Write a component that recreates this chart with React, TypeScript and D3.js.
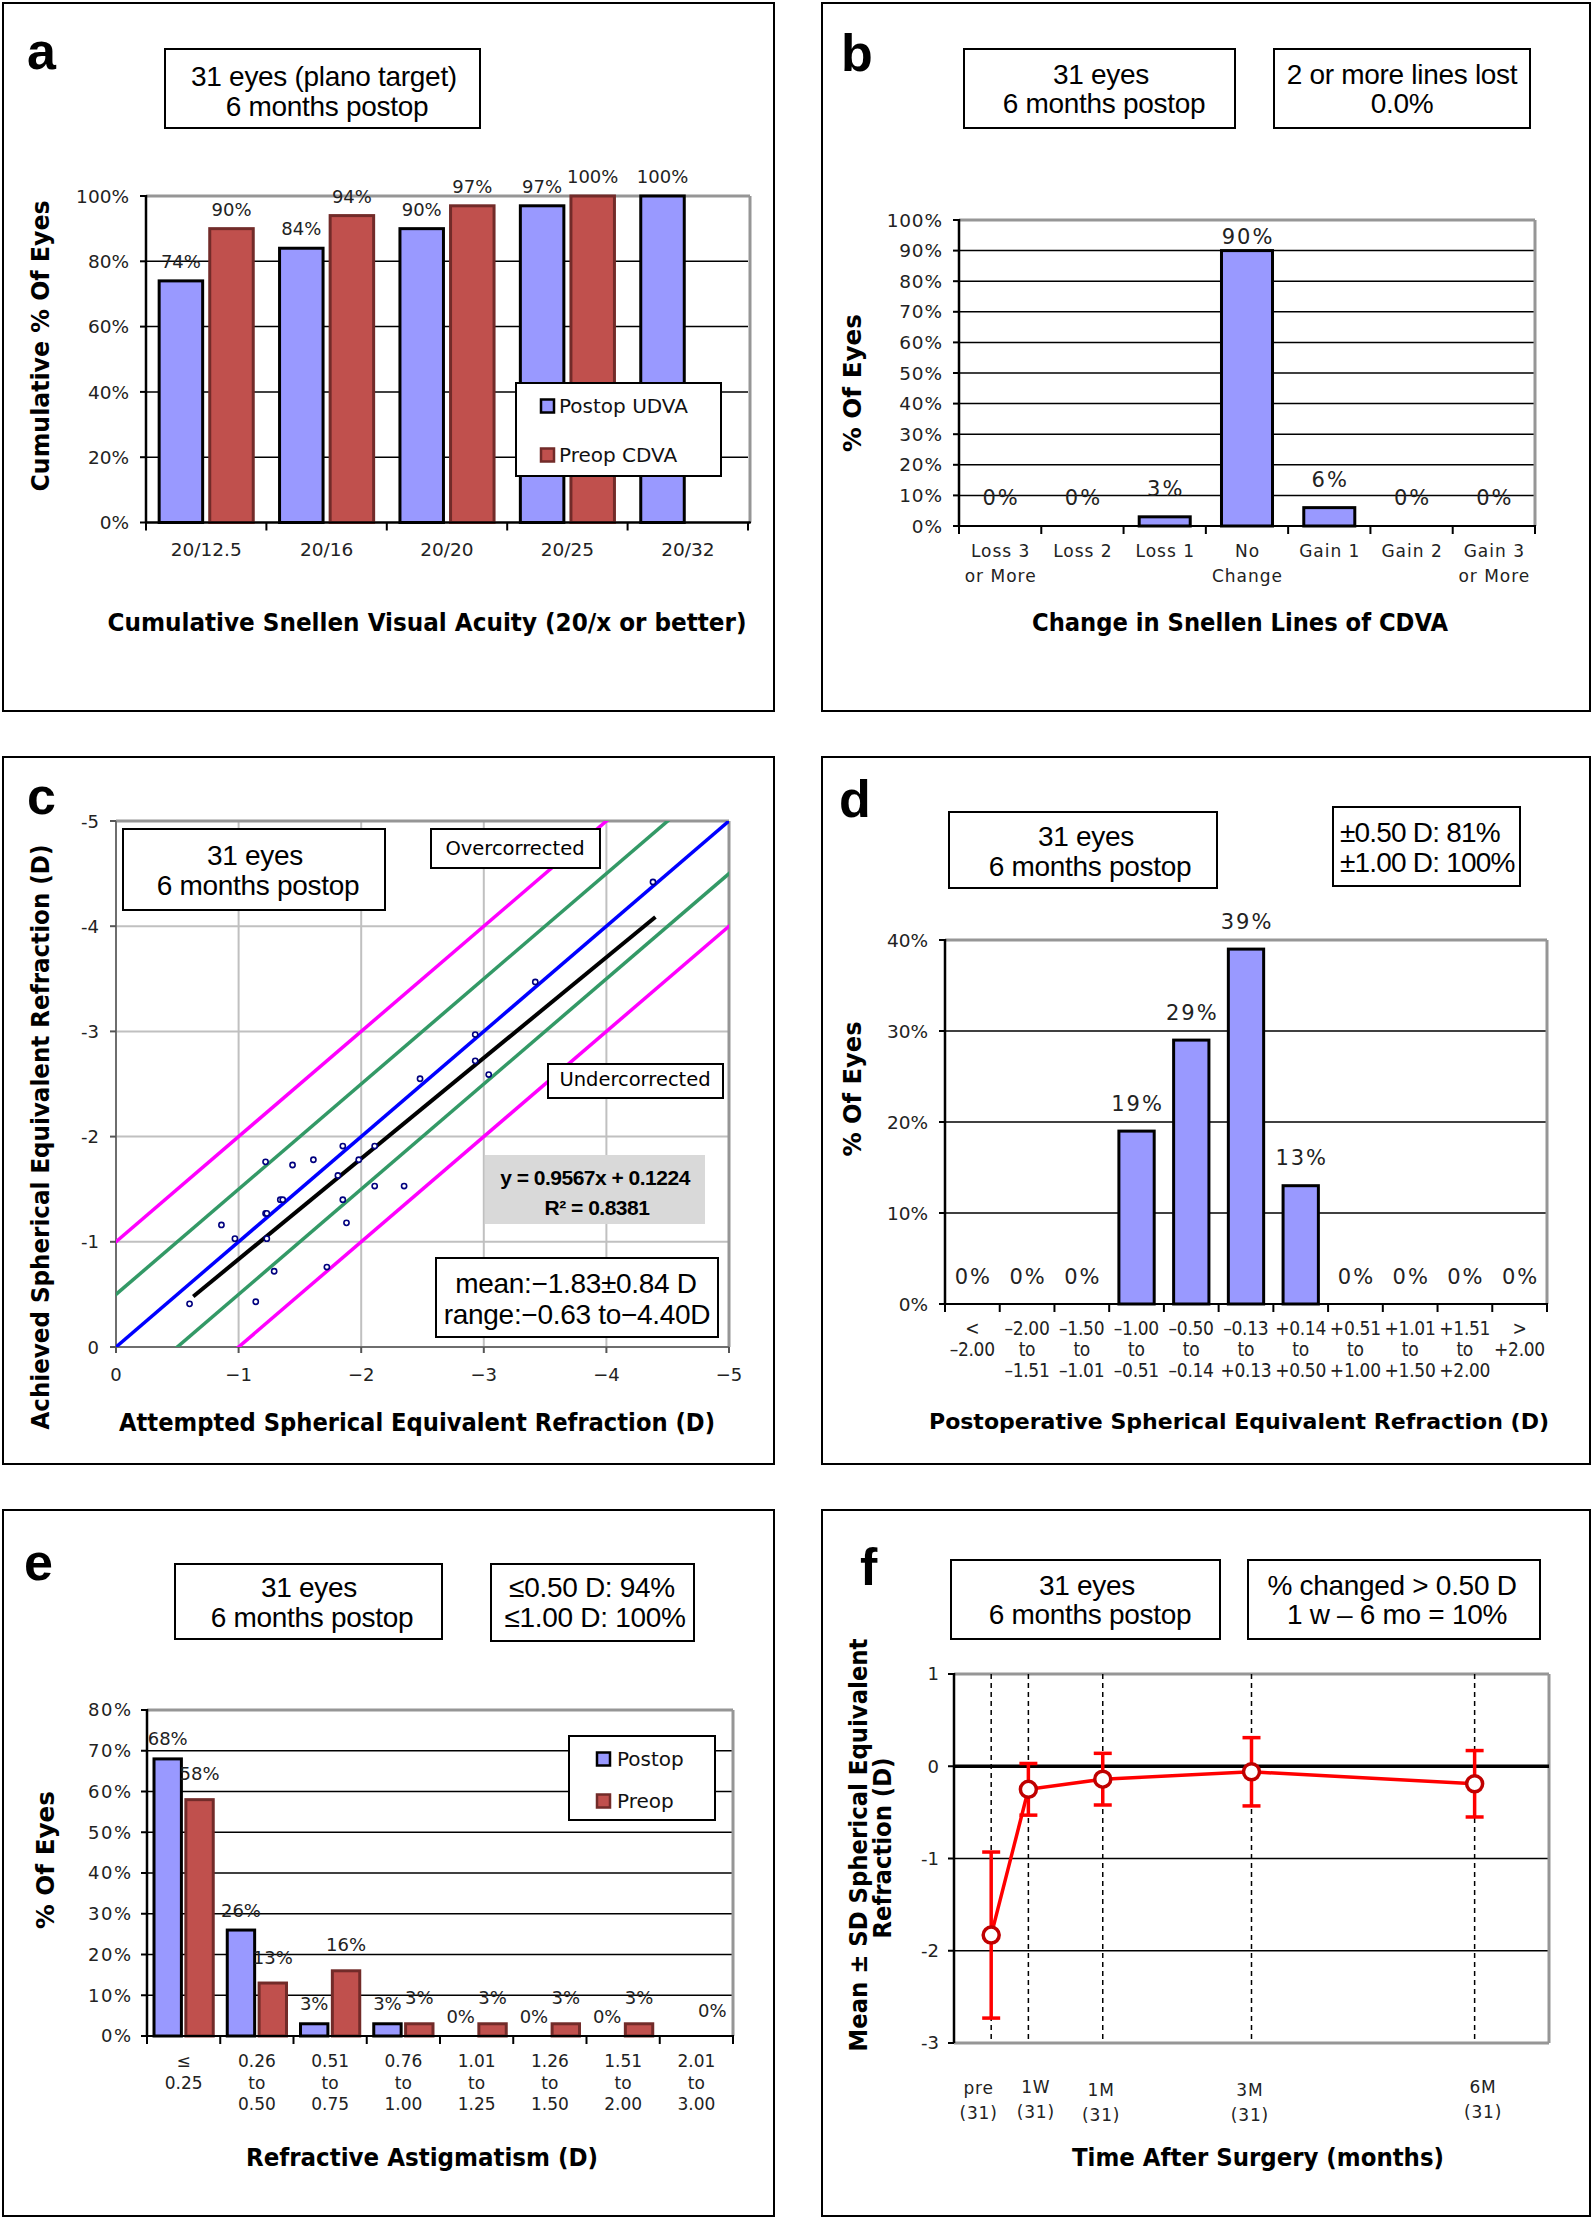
import React, { useEffect } from 'react';
import * as d3 from 'd3';

const W = 1594;
const H = 2220;

// a: cumulative Snellen visual acuity
const acuityLabels = ['20/12.5', '20/16', '20/20', '20/25', '20/32'];
const acuityPostopUDVA = [74, 84, 90, 97, 100];
const acuityPreopCDVA = [90, 94, 97, 100, null];
const acuityTicks = [0, 20, 40, 60, 80, 100];

// b: change in Snellen lines of CDVA
const lineChangeLabels = [['Loss 3', 'or More'], ['Loss 2'], ['Loss 1'], ['No', 'Change'], ['Gain 1'], ['Gain 2'], ['Gain 3', 'or More']];
const lineChangeValues = [0, 0, 3, 90, 6, 0, 0];
const lineChangeTicks = [0, 10, 20, 30, 40, 50, 60, 70, 80, 90, 100];

// c: attempted vs achieved spherical equivalent
const attemptedSE = [-0.60, -0.86, -0.97, -1.14, -1.22, -1.22, -1.23, -1.23, -1.29, -1.34, -1.36, -1.44, -1.61, -1.72, -1.81, -1.85, -1.85, -1.88, -1.98, -2.11, -2.11, -2.35, -2.48, -2.93, -2.93, -3.04, -3.42, -4.38];
const achievedSE = [-0.41, -1.16, -1.03, -0.43, -1.76, -1.27, -1.27, -1.03, -0.72, -1.40, -1.40, -1.73, -1.78, -0.76, -1.63, -1.91, -1.40, -1.18, -1.78, -1.91, -1.53, -1.53, -2.55, -2.97, -2.72, -2.59, -3.47, -4.42];
const fitSlope = 0.9567;
const fitIntercept = 0.1224;
const fitRange = [-0.63, -4.40];
const seAxisTicks = [0, -1, -2, -3, -4, -5];
const exactOffsets = [0];
const halfDiopterOffsets = [-0.5, 0.5];
const oneDiopterOffsets = [-1, 1];

// d: postoperative SE distribution
const postSELabels = [
  ['<', '–2.00'], ['–2.00', 'to', '–1.51'], ['–1.50', 'to', '–1.01'], ['–1.00', 'to', '–0.51'],
  ['–0.50', 'to', '–0.14'], ['–0.13', 'to', '+0.13'], ['+0.14', 'to', '+0.50'], ['+0.51', 'to', '+1.00'],
  ['+1.01', 'to', '+1.50'], ['+1.51', 'to', '+2.00'], ['>', '+2.00'],
];
const postSEValues = [0, 0, 0, 19, 29, 39, 13, 0, 0, 0, 0];
const postSETicks = [0, 10, 20, 30, 40];

// e: refractive astigmatism
const astigLabels = [['≤', '0.25'], ['0.26', 'to', '0.50'], ['0.51', 'to', '0.75'], ['0.76', 'to', '1.00'], ['1.01', 'to', '1.25'], ['1.26', 'to', '1.50'], ['1.51', 'to', '2.00'], ['2.01', 'to', '3.00']];
const astigPostop = [68, 26, 3, 3, 0, 0, 0, null];
const astigPreop = [58, 13, 16, 3, 3, 3, 3, 0];
const astigTicks = [0, 10, 20, 30, 40, 50, 60, 70, 80];

// f: stability of SE over time
const timeLabels = ['pre', '1W', '1M', '3M', '6M'];
const timeCounts = ['(31)', '(31)', '(31)', '(31)', '(31)'];
const timeMonths = [-0.5, 0, 1, 3, 6];
const seMean = [-1.83, -0.25, -0.14, -0.06, -0.19];
const seSD = [0.90, 0.28, 0.28, 0.37, 0.36];
const stabilityTicks = [1, 0, -1, -2, -3];

const BLUE = '#9999FF';
const RED = '#C0504D';
const RED_EDGE = '#722B29';
const FRAME = '#969696';
const SANS = "'DejaVu Sans', Verdana, sans-serif";
const COND = "'DejaVu Sans Condensed', 'DejaVu Sans', sans-serif";
const ARIAL = "'Liberation Sans', Arial, sans-serif";

function Border({ x, y, w, h }) {
  return <rect x={x} y={y} width={w} height={h} fill="none" stroke="#000" strokeWidth={2} />;
}

function Letter({ x, y, t }) {
  return <text x={x} y={y} fontFamily={ARIAL} fontWeight="bold" fontSize={52}>{t}</text>;
}

function TextBox({ x, y, w, h, lines, tx, ty, anchor = 'middle', size = 28, weight = 'normal', fill = '#fff', stroke = '#000', font = ARIAL, spacing = -0.3 }) {
  return (
    <g>
      <rect x={x} y={y} width={w} height={h} fill={fill} stroke={stroke} strokeWidth={stroke === 'none' ? 0 : 2} />
      {lines.map((l, i) => (
        <text key={i} x={Array.isArray(tx) ? tx[i] : tx} y={ty[i]} textAnchor={anchor} fontFamily={font}
          fontSize={size} fontWeight={weight} letterSpacing={spacing}>{l}</text>
      ))}
    </g>
  );
}

function XTitle({ cx, y, len, size = 24, children }) {
  return <text x={cx} y={y} textAnchor="middle" fontFamily={SANS} fontWeight="bold" fontSize={size}
    textLength={len} lengthAdjust="spacingAndGlyphs">{children}</text>;
}

function YTitle({ cx, cy, len, children }) {
  return <text transform={`translate(${cx + 9},${cy}) rotate(-90)`} textAnchor="middle" fontFamily={SANS}
    fontWeight="bold" fontSize={24} textLength={len} lengthAdjust="spacingAndGlyphs">{children}</text>;
}

function Frame({ left, right, top, bottom, bottomAxis = true }) {
  return (
    <g>
      <line x1={left} x2={right} y1={top} y2={top} stroke={FRAME} strokeWidth={3} />
      <line x1={right} x2={right} y1={top} y2={bottom} stroke={FRAME} strokeWidth={3} />
      {bottomAxis
        ? <line x1={left} x2={right + 1} y1={bottom} y2={bottom} stroke="#000" strokeWidth={2} />
        : <line x1={left} x2={right} y1={bottom} y2={bottom} stroke={FRAME} strokeWidth={3} />}
      <line x1={left} x2={left} y1={top - 1} y2={bottom} stroke="#000" strokeWidth={2.5} />
    </g>
  );
}

function YAxisTicks({ y, ticks, left, labelX, fmt, size = 18.5, spacing = 0 }) {
  return (
    <g>
      {ticks.map(t => (
        <g key={t}>
          <line x1={left - 6} x2={left} y1={y(t)} y2={y(t)} stroke="#000" strokeWidth={2} />
          <text x={labelX + spacing} y={y(t) + size * 0.36} textAnchor="end" fontFamily={SANS} fontSize={size}
            letterSpacing={spacing} fill="#222">{fmt(t)}</text>
        </g>
      ))}
    </g>
  );
}

function BandTicks({ band, n, bottom }) {
  const start = band.range()[0];
  return (
    <g>
      {d3.range(n + 1).map(i => {
        const xx = start + i * band.step();
        return <line key={i} x1={xx} x2={xx} y1={bottom} y2={bottom + 8} stroke="#000" strokeWidth={2} />;
      })}
    </g>
  );
}

function MultiLine({ x, ys, lines, size, font = SANS, spacing = 0, stretch = 'normal' }) {
  return (
    <g>
      {lines.map((l, i) => (
        <text key={i} x={x + spacing / 2} y={ys[i]} textAnchor="middle" fontFamily={font} fontSize={size}
          fontStretch={stretch} letterSpacing={spacing} fill="#222">{l}</text>
      ))}
    </g>
  );
}

function Legend({ x, y, w, h, items, markX, textX, cys }) {
  return (
    <g>
      <rect x={x} y={y} width={w} height={h} fill="#fff" stroke="#000" strokeWidth={2} />
      {items.map((it, i) => (
        <g key={it.name}>
          <rect x={markX} y={cys[i] - 6.5} width={13} height={13} fill={it.fill} stroke={it.edge} strokeWidth={2.5} />
          <text x={textX} y={cys[i] + 7.3} fontFamily={SANS} fontSize={20} fill="#111">{it.name}</text>
        </g>
      ))}
    </g>
  );
}

function PanelA() {
  const left = 146, right = 748, top = 196, bottom = 522.5;
  const x0 = d3.scaleBand().domain(acuityLabels).range([left, right]);
  const x1 = d3.scaleBand().domain(['post', 'pre']).range([0, x0.bandwidth()]).paddingInner(0.14).paddingOuter(0.26);
  const y = d3.scaleLinear().domain([0, 100]).range([bottom, top]);
  const series = [
    { key: 'post', values: acuityPostopUDVA, fill: BLUE, edge: '#000' },
    { key: 'pre', values: acuityPreopCDVA, fill: RED, edge: RED_EDGE },
  ];
  return (
    <g>
      <Border x={3} y={3} w={771} h={708} />
      <Letter x={27} y={69} t="a" />
      <TextBox x={165} y={49} w={315} h={79} lines={['31 eyes (plano target)', '6 months postop']} tx={[324, 327]} ty={[86, 116]} />
      {acuityTicks.filter(t => t > 0 && t < 100).map(t => (
        <line key={t} x1={left} x2={right} y1={y(t)} y2={y(t)} stroke="#000" strokeWidth={1.5} />
      ))}
      <Frame left={left} right={right + 2} top={top} bottom={bottom} />
      {series.map(s => s.values.map((v, i) => v == null ? null : (
        <rect key={s.key + i} x={x0(acuityLabels[i]) + x1(s.key)} y={y(v)} width={x1.bandwidth()} height={bottom - y(v)}
          fill={s.fill} stroke={s.edge} strokeWidth={3} />
      )))}
      {series.map(s => s.values.map((v, i) => v == null ? null : (
        <text key={'l' + s.key + i} x={x0(acuityLabels[i]) + x1(s.key) + x1.bandwidth() / 2} y={y(v) - 13}
          textAnchor="middle" fontFamily={SANS} fontSize={18} fill="#222">{v}%</text>
      )))}
      <line x1={left} x2={right + 2} y1={bottom} y2={bottom} stroke="#000" strokeWidth={2} />
      <YAxisTicks y={y} ticks={acuityTicks} left={left} labelX={129} fmt={t => `${t}%`} />
      <BandTicks band={x0} n={acuityLabels.length} bottom={bottom} />
      {acuityLabels.map(c => (
        <MultiLine key={c} x={x0(c) + x0.bandwidth() / 2} ys={[556]} lines={[c]} size={18.5} />
      ))}
      <Legend x={516} y={383} w={205} h={93} markX={541} textX={559} cys={[406, 455]}
        items={[{ name: 'Postop UDVA', fill: BLUE, edge: '#000' }, { name: 'Preop CDVA', fill: RED, edge: RED_EDGE }]} />
      <YTitle cx={40} cy={346} len={291}>Cumulative % Of Eyes</YTitle>
      <XTitle cx={427} y={631} len={639}>Cumulative Snellen Visual Acuity (20/x or better)</XTitle>
    </g>
  );
}

function PanelB() {
  const left = 959, right = 1535, top = 220, bottom = 526;
  const x = d3.scaleBand().domain(lineChangeLabels.map((_, i) => String(i))).range([left, right]).paddingInner(0.38).paddingOuter(0.19);
  const y = d3.scaleLinear().domain([0, 100]).range([bottom, top]);
  return (
    <g>
      <Border x={822} y={3} w={768} h={708} />
      <Letter x={841} y={71} t="b" />
      <TextBox x={964} y={49} w={271} h={79} lines={['31 eyes', '6 months postop']} tx={[1101, 1104]} ty={[84, 113]} />
      <TextBox x={1274} y={49} w={256} h={79} lines={['2 or more lines lost', '0.0%']} tx={[1402, 1402]} ty={[84, 113]} />
      {lineChangeTicks.filter(t => t > 0 && t < 100).map(t => (
        <line key={t} x1={left} x2={right} y1={y(t)} y2={y(t)} stroke="#000" strokeWidth={1.5} />
      ))}
      <Frame left={left} right={right} top={top} bottom={bottom} />
      {lineChangeValues.map((v, i) => v > 0 ? (
        <rect key={i} x={x(String(i))} y={y(v)} width={x.bandwidth()} height={bottom - y(v)} fill={BLUE} stroke="#000" strokeWidth={3} />
      ) : null)}
      {lineChangeValues.map((v, i) => (
        <text key={'l' + i} x={x(String(i)) + x.bandwidth() / 2 + 1} y={Math.max(y(v) - 28.5, top + 16) + 7.6}
          textAnchor="middle" fontFamily={SANS} fontSize={21} letterSpacing={2} fill="#222">{v}%</text>
      ))}
      <line x1={left} x2={right + 1} y1={bottom} y2={bottom} stroke="#000" strokeWidth={2} />
      <YAxisTicks y={y} ticks={lineChangeTicks} left={left} labelX={942} fmt={t => `${t}%`} spacing={0.8} />
      <BandTicks band={x} n={lineChangeLabels.length} bottom={bottom} />
      {lineChangeLabels.map((l, i) => (
        <MultiLine key={i} x={x(String(i)) + x.bandwidth() / 2} ys={[557, 582]} lines={l} size={17} spacing={1} />
      ))}
      <YTitle cx={852} cy={383} len={138}>% Of Eyes</YTitle>
      <XTitle cx={1240} y={631} len={416}>Change in Snellen Lines of CDVA</XTitle>
    </g>
  );
}

function PanelC() {
  const left = 116, right = 729, top = 821, bottom = 1347;
  const x = d3.scaleLinear().domain([0, -5]).range([left, right]);
  const y = d3.scaleLinear().domain([0, -5]).range([bottom, top]);
  const ref = d3.line().x(d => x(d[0])).y(d => y(d[1]));
  const refLine = k => ref([[1, 1 + k], [-6, -6 + k]]);
  const fit = ref(fitRange.map(v => [v, fitSlope * v + fitIntercept]));
  return (
    <g>
      <Border x={3} y={757} w={771} h={707} />
      <Letter x={27} y={814} t="c" />
      <defs>
        <clipPath id="clipC"><rect x={left} y={top} width={right - left} height={bottom - top} /></clipPath>
      </defs>
      {seAxisTicks.filter(t => t < 0 && t > -5).map(t => (
        <g key={t}>
          <line x1={x(t)} x2={x(t)} y1={top} y2={bottom} stroke="#C0C0C0" strokeWidth={2} />
          <line x1={left} x2={right} y1={y(t)} y2={y(t)} stroke="#C0C0C0" strokeWidth={2} />
        </g>
      ))}
      <line x1={left} x2={right} y1={top} y2={top} stroke={FRAME} strokeWidth={3} />
      <line x1={right} x2={right} y1={top} y2={bottom} stroke={FRAME} strokeWidth={3} />
      <line x1={left} x2={left} y1={top} y2={bottom} stroke="#6E6E6E" strokeWidth={2} />
      <line x1={left} x2={right} y1={bottom} y2={bottom} stroke="#6E6E6E" strokeWidth={2} />
      <g clipPath="url(#clipC)" fill="none" strokeWidth={3.5}>
        {oneDiopterOffsets.map(k => <path key={'m' + k} d={refLine(k)} stroke="#FF00FF" />)}
        {halfDiopterOffsets.map(k => <path key={'g' + k} d={refLine(k)} stroke="#339966" />)}
        {exactOffsets.map(k => <path key={'b' + k} d={refLine(k)} stroke="#0000FF" />)}
        <path d={fit} stroke="#000" strokeWidth={4} />
      </g>
      {attemptedSE.map((a, i) => (
        <circle key={i} cx={x(a)} cy={y(achievedSE[i])} r={2.6} fill="#fff" stroke="#00007F" strokeWidth={1.6} />
      ))}
      {seAxisTicks.map(t => (
        <g key={'t' + t}>
          <line x1={x(t)} x2={x(t)} y1={bottom} y2={bottom + 6} stroke="#555" strokeWidth={2} />
          <line x1={left - 6} x2={left} y1={y(t)} y2={y(t)} stroke="#555" strokeWidth={2} />
          <text x={x(t)} y={1381} textAnchor="middle" fontFamily={SANS} fontSize={18} fill="#222">{t === 0 ? '0' : `−${-t}`}</text>
          <text x={99} y={y(t) + 6.5} textAnchor="end" fontFamily={SANS} fontSize={18} fill="#222">{t === 0 ? '0' : `-${-t}`}</text>
        </g>
      ))}
      <TextBox x={123} y={829} w={262} h={81} lines={['31 eyes', '6 months postop']} tx={[255, 258]} ty={[865, 895]} />
      <TextBox x={431} y={829} w={169} h={39} lines={['Overcorrected']} tx={515} ty={[855]} font={SANS} size={19.5} spacing={0} />
      <TextBox x={548} y={1064} w={175} h={34} lines={['Undercorrected']} tx={635} ty={[1086]} font={SANS} size={19.5} spacing={0} />
      <TextBox x={485} y={1155} w={220} h={69} lines={[`y = ${fitSlope}x + ${fitIntercept}`, 'R² = 0.8381']} tx={[595, 597]} ty={[1185, 1215]}
        size={21} weight="bold" fill="#D9D9D9" stroke="none" spacing={-0.5} />
      <TextBox x={436} y={1258} w={282} h={79} lines={['mean:−1.83±0.84 D', 'range:−0.63 to−4.40D']} tx={[576, 577]} ty={[1293, 1324]} />
      <YTitle cx={40} cy={1137} len={585}>Achieved Spherical Equivalent Refraction (D)</YTitle>
      <XTitle cx={417} y={1431} len={596}>Attempted Spherical Equivalent Refraction (D)</XTitle>
    </g>
  );
}

function PanelD() {
  const left = 945, right = 1547, top = 940, bottom = 1304;
  const x = d3.scaleBand().domain(postSELabels.map((_, i) => String(i))).range([left, right]).paddingInner(0.355).paddingOuter(0.1775);
  const y = d3.scaleLinear().domain([0, 40]).range([bottom, top]);
  return (
    <g>
      <Border x={822} y={757} w={768} h={707} />
      <Letter x={839} y={817} t="d" />
      <TextBox x={949} y={812} w={268} h={76} lines={['31 eyes', '6 months postop']} tx={[1086, 1090]} ty={[846, 876]} />
      <TextBox x={1333} y={807} w={187} h={79} lines={['±0.50 D: 81%', '±1.00 D: 100%']} tx={1340} ty={[842, 872]} anchor="start" spacing={-0.8} />
      {postSETicks.filter(t => t > 0 && t < 40).map(t => (
        <line key={t} x1={left} x2={right} y1={y(t)} y2={y(t)} stroke="#000" strokeWidth={1.5} />
      ))}
      <Frame left={left} right={right} top={top} bottom={bottom} />
      {postSEValues.map((v, i) => v > 0 ? (
        <rect key={i} x={x(String(i))} y={y(v)} width={x.bandwidth()} height={bottom - y(v)} fill={BLUE} stroke="#000" strokeWidth={3} />
      ) : null)}
      {postSEValues.map((v, i) => (
        <text key={'l' + i} x={x(String(i)) + x.bandwidth() / 2 + 1} y={y(v) - 28 + 7.6}
          textAnchor="middle" fontFamily={SANS} fontSize={21} letterSpacing={2} fill="#222">{v}%</text>
      ))}
      <line x1={left} x2={right + 1} y1={bottom} y2={bottom} stroke="#000" strokeWidth={2} />
      <YAxisTicks y={y} ticks={postSETicks} left={left} labelX={928} fmt={t => `${t}%`} />
      <BandTicks band={x} n={postSELabels.length} bottom={bottom} />
      {postSELabels.map((l, i) => (
        <MultiLine key={i} x={x(String(i)) + x.bandwidth() / 2} ys={[1335, 1356, 1377]} lines={l} size={19}
          font={COND} stretch="condensed" spacing={-0.3} />
      ))}
      <YTitle cx={852} cy={1089} len={135}>% Of Eyes</YTitle>
      <XTitle cx={1239} y={1429} len={620} size={21}>Postoperative Spherical Equivalent Refraction (D)</XTitle>
    </g>
  );
}

function PanelE() {
  const left = 147, right = 733, top = 1710, bottom = 2036;
  const x0 = d3.scaleBand().domain(astigLabels.map((_, i) => String(i))).range([left, right]);
  const x1 = d3.scaleBand().domain(['post', 'pre']).range([0, x0.bandwidth()]).paddingInner(0.14).paddingOuter(0.22);
  const y = d3.scaleLinear().domain([0, 80]).range([bottom, top]);
  const series = [
    { key: 'post', values: astigPostop, fill: BLUE, edge: '#000', lift: 20 },
    { key: 'pre', values: astigPreop, fill: RED, edge: RED_EDGE, lift: 26 },
  ];
  return (
    <g>
      <Border x={3} y={1510} w={771} h={706} />
      <Letter x={24} y={1580} t="e" />
      <TextBox x={175} y={1564} w={267} h={75} lines={['31 eyes', '6 months postop']} tx={[309, 312]} ty={[1597, 1627]} />
      <TextBox x={491} y={1564} w={203} h={77} lines={['≤0.50 D: 94%', '≤1.00 D: 100%']} tx={[592, 595]} ty={[1597, 1627]} />
      {astigTicks.filter(t => t > 0 && t < 80).map(t => (
        <line key={t} x1={left} x2={right} y1={y(t)} y2={y(t)} stroke="#000" strokeWidth={1.5} />
      ))}
      <Frame left={left} right={right} top={top} bottom={bottom} />
      {series.map(s => s.values.map((v, i) => v == null || v === 0 ? null : (
        <rect key={s.key + i} x={x0(String(i)) + x1(s.key)} y={y(v)} width={x1.bandwidth()} height={bottom - y(v)}
          fill={s.fill} stroke={s.edge} strokeWidth={3} />
      )))}
      {series.map(s => s.values.map((v, i) => v == null ? null : (
        <text key={'l' + s.key + i} x={x0(String(i)) + x1(s.key) + x1.bandwidth() / 2} y={y(v) - s.lift + 6.5}
          textAnchor="middle" fontFamily={SANS} fontSize={18} fill="#222">{v}%</text>
      )))}
      <line x1={left} x2={right + 1} y1={bottom} y2={bottom} stroke="#000" strokeWidth={2} />
      <YAxisTicks y={y} ticks={astigTicks} left={left} labelX={131} fmt={t => `${t}%`} size={18} spacing={1.5} />
      <BandTicks band={x0} n={astigLabels.length} bottom={bottom} />
      {astigLabels.map((l, i) => (
        <MultiLine key={i} x={x0(String(i)) + x0.bandwidth() / 2} ys={[2067, 2089, 2110]} lines={l} size={17} />
      ))}
      <Legend x={569} y={1736} w={146} h={84} markX={597} textX={617} cys={[1759, 1801]}
        items={[{ name: 'Postop', fill: BLUE, edge: '#000' }, { name: 'Preop', fill: RED, edge: RED_EDGE }]} />
      <YTitle cx={45} cy={1860} len={138}>% Of Eyes</YTitle>
      <XTitle cx={422} y={2166} len={352}>Refractive Astigmatism (D)</XTitle>
    </g>
  );
}

function PanelF() {
  const left = 954, right = 1549, top = 1674, bottom = 2043;
  const x = d3.scaleLinear().domain([-1, 7]).range([left, right]);
  const y = d3.scaleLinear().domain([-3, 1]).range([bottom, top]);
  const line = d3.line().x(d => x(d[0])).y(d => y(d[1]));
  const pts = timeMonths.map((t, i) => [t, seMean[i]]);
  // the time labels in the original are free text boxes, nudged off their gridlines
  const labelNudge = [-13, 7, -2, -2, 8];
  const labelRows = [[2094, 2119], [2093, 2118], [2096, 2121], [2096, 2121], [2093, 2118]];
  return (
    <g>
      <Border x={822} y={1510} w={768} h={706} />
      <Letter x={860} y={1585} t="f" />
      <TextBox x={951} y={1560} w={269} h={79} lines={['31 eyes', '6 months postop']} tx={[1087, 1090]} ty={[1595, 1624]} />
      <TextBox x={1248} y={1560} w={292} h={79} lines={['% changed > 0.50 D', '1 w – 6 mo = 10%']} tx={[1392, 1397]} ty={[1595, 1624]} />
      {stabilityTicks.filter(t => t < 0 && t > -3).map(t => (
        <line key={t} x1={left} x2={right} y1={y(t)} y2={y(t)} stroke="#000" strokeWidth={1.5} />
      ))}
      <Frame left={left} right={right} top={top} bottom={bottom} bottomAxis={false} />
      {timeMonths.map((t, i) => (
        <line key={'d' + i} x1={x(t)} x2={x(t)} y1={top} y2={bottom} stroke="#000" strokeWidth={1.5} strokeDasharray="5,4" />
      ))}
      <line x1={left} x2={right} y1={y(0)} y2={y(0)} stroke="#000" strokeWidth={3.5} />
      {timeMonths.map((t, i) => (
        <g key={'e' + i} stroke="#FF0000" strokeWidth={3.5}>
          <line x1={x(t)} x2={x(t)} y1={y(seMean[i] + seSD[i])} y2={y(seMean[i] - seSD[i])} />
          <line x1={x(t) - 9} x2={x(t) + 9} y1={y(seMean[i] + seSD[i])} y2={y(seMean[i] + seSD[i])} />
          <line x1={x(t) - 9} x2={x(t) + 9} y1={y(seMean[i] - seSD[i])} y2={y(seMean[i] - seSD[i])} />
        </g>
      ))}
      <path d={line(pts)} fill="none" stroke="#FF0000" strokeWidth={3.5} />
      {pts.map((p, i) => (
        <circle key={'c' + i} cx={x(p[0])} cy={y(p[1])} r={8} fill="#fff" stroke="#C00000" strokeWidth={3.5} />
      ))}
      <YAxisTicks y={y} ticks={stabilityTicks} left={left} labelX={939} fmt={t => (t < 0 ? `-${-t}` : `${t}`)} size={18} />
      {timeMonths.map((t, i) => (
        <MultiLine key={'x' + i} x={x(t) + labelNudge[i]} ys={labelRows[i]} lines={[timeLabels[i], timeCounts[i]]} size={17} spacing={0.8} />
      ))}
      <YTitle cx={858} cy={1845} len={413}>Mean ± SD Spherical Equivalent</YTitle>
      <YTitle cx={882} cy={1848} len={181}>Refraction (D)</YTitle>
      <XTitle cx={1258} y={2166} len={372}>Time After Surgery (months)</XTitle>
    </g>
  );
}

export default function App() {
  useEffect(() => {
    document.body.style.margin = '0';
  }, []);
  return (
    <svg width={W} height={H} viewBox={`0 0 ${W} ${H}`} style={{ display: 'block', position: 'absolute', left: 0, top: 0 }}>
      <rect x={0} y={0} width={W} height={H} fill="#fff" />
      <PanelA />
      <PanelB />
      <PanelC />
      <PanelD />
      <PanelE />
      <PanelF />
    </svg>
  );
}
